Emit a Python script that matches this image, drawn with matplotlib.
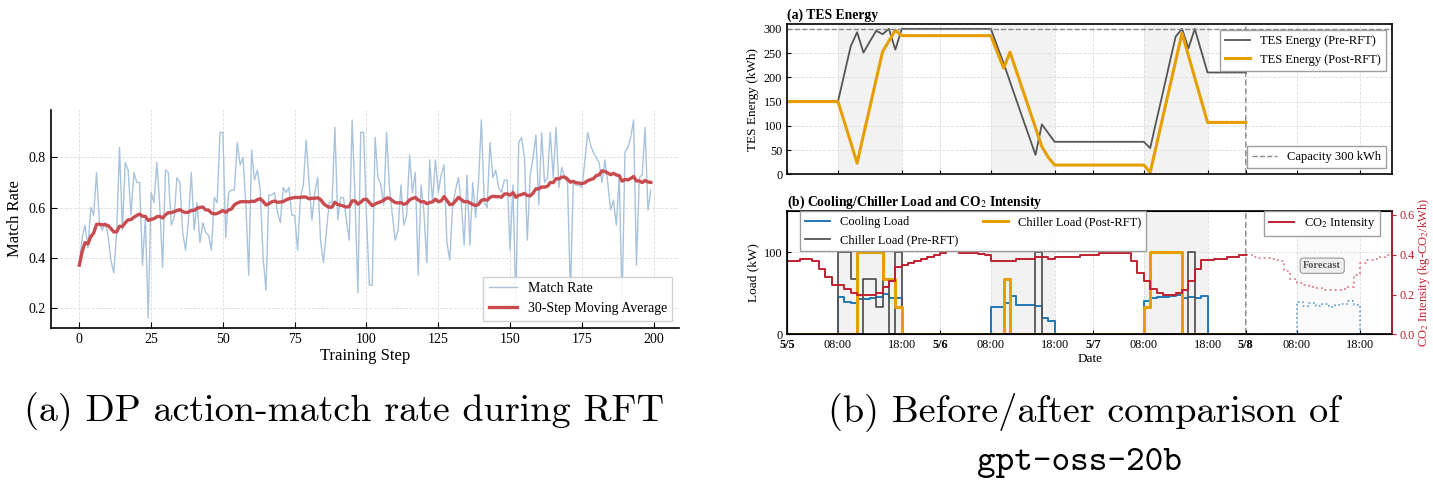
"""
RFT rezultati: (a) stopa poklapanja sa DP akcijama tokom treninga,
(b) poredjenje TES energije i opterecenja pre/posle RFT-a.
"""

import numpy as np
import pandas as pd
import matplotlib
matplotlib.use("Agg")
from matplotlib import pyplot as plt

plt.rcParams["font.family"] = "serif"
plt.rcParams["font.serif"] = ["Liberation Serif", "DejaVu Serif"]
plt.rcParams["mathtext.fontset"] = "stix"
plt.rcParams["xtick.direction"] = "in"
plt.rcParams["ytick.direction"] = "in"

# (a) match rate po koraku treninga
match_rate = [
    0.37, 0.48, 0.53, 0.44, 0.60, 0.57, 0.74, 0.54, 0.51, 0.54,
    0.49, 0.39, 0.34, 0.50, 0.84, 0.51, 0.78, 0.75, 0.57, 0.74,
    0.70, 0.70, 0.37, 0.56, 0.16, 0.66, 0.62, 0.78, 0.61, 0.36,
    0.75, 0.74, 0.53, 0.56, 0.72, 0.70, 0.50, 0.43, 0.55, 0.74,
    0.51, 0.62, 0.46, 0.54, 0.50, 0.49, 0.43, 0.64, 0.62, 0.90,
    0.90, 0.48, 0.66, 0.67, 0.67, 0.86, 0.77, 0.80, 0.61, 0.33,
    0.83, 0.71, 0.75, 0.67, 0.40, 0.27, 0.65, 0.65, 0.66, 0.58,
    0.54, 0.68, 0.66, 0.68, 0.57, 0.57, 0.43, 0.64, 0.69, 0.87,
    0.70, 0.55, 0.66, 0.72, 0.47, 0.38, 0.50, 0.62, 0.62, 0.92,
    0.55, 0.64, 0.64, 0.55, 0.47, 0.95, 0.64, 0.26, 0.90, 0.90,
    0.56, 0.29, 0.29, 0.88, 0.72, 0.69, 0.61, 0.90, 0.68, 0.57,
    0.47, 0.51, 0.69, 0.53, 0.57, 0.81, 0.66, 0.74, 0.33, 0.69,
    0.58, 0.38, 0.79, 0.62, 0.79, 0.66, 0.73, 0.77, 0.46, 0.39,
    0.61, 0.67, 0.72, 0.62, 0.45, 0.73, 0.45, 0.70, 0.56, 0.70,
    0.95, 0.62, 0.60, 0.86, 0.72, 0.75, 0.68, 0.66, 0.71, 0.71,
    0.43, 0.69, 0.22, 0.86, 0.88, 0.80, 0.47, 0.73, 0.80, 0.89,
    0.61, 0.90, 0.70, 0.72, 0.90, 0.72, 0.92, 0.68, 0.76, 0.72,
    0.70, 0.25, 0.70, 0.69, 0.69, 0.68, 0.78, 0.90, 0.85, 0.82,
    0.80, 0.78, 0.70, 0.79, 0.70, 0.59, 0.63, 0.53, 0.73, 0.22,
    0.82, 0.84, 0.88, 0.95, 0.37, 0.72, 0.73, 0.92, 0.59, 0.67,
]

# (b) satni podaci od 5/5 00:00 do 5/8 00:00
tes_pre = ([150] * 9
           + [207, 264, 293, 251, 274, 296, 289, 300, 257, 300]
           + [300] * 14
           + [264, 229, 191, 153, 115, 78, 40, 103, 85, 67]
           + [67] * 14
           + [54, 112, 169, 227, 284, 300, 260, 300, 255, 210]
           + [210] * 6)
tes_post = ([150] * 9
            + [108, 66, 23, 81, 138, 196, 253, 275, 297, 286]
            + [286] * 14
            + [252, 219, 252, 213, 174, 135, 96, 57, 35, 19]
            + [19] * 14
            + [4, 61, 119, 176, 234, 291, 245, 199, 153, 107]
            + [107] * 6)
cooling_load = ([0] * 8
                + [46, 39, 38, 43, 43, 44, 45, 49, 44, 44]
                + [0] * 14
                + [33, 33, 38, 47, 36, 36, 36, 35, 20, 16]
                + [0] * 14
                + [41, 44, 45, 45, 47, 48, 44, 46, 44, 47]
                + [0] * 7)
chiller_pre = ([0] * 8
               + [100, 100, 67, 0, 67, 67, 33, 67, 0, 100]
               + [0] * 21 + [100] + [0] * 23 + [100] + [0] * 9)
chiller_post = ([0] * 11
                + [100, 100, 100, 100, 67, 67, 33]
                + [0] * 16 + [67] + [0] * 21
                + [33, 100, 100, 100, 100, 100]
                + [0] * 11)
co2_hist = [
    0.37, 0.37, 0.38, 0.38, 0.37, 0.33, 0.29, 0.25, 0.25, 0.23,
    0.21, 0.20, 0.20, 0.20, 0.21, 0.24, 0.27, 0.34, 0.35, 0.36,
    0.37, 0.38, 0.39, 0.40, 0.41, 0.42, 0.42, 0.41, 0.41, 0.41,
    0.405, 0.40, 0.37, 0.37, 0.37, 0.37, 0.38, 0.38, 0.38, 0.39,
    0.39, 0.38, 0.39, 0.39, 0.39, 0.39, 0.40, 0.40, 0.40, 0.41,
    0.41, 0.41, 0.41, 0.41, 0.37, 0.31, 0.27, 0.23, 0.21, 0.20,
    0.20, 0.21, 0.225, 0.27, 0.33, 0.375, 0.375, 0.38, 0.38, 0.39,
    0.39, 0.40, 0.40,
]
# prognoza za 5/8
cooling_fc = ([0] * 8
              + [39, 35, 38, 35, 37, 33, 36, 37, 40, 36]
              + [0] * 6)
co2_fc = [
    0.40, 0.39, 0.385, 0.385, 0.38, 0.37, 0.32, 0.28, 0.26, 0.25,
    0.24, 0.235, 0.225, 0.225, 0.225, 0.23, 0.24, 0.30, 0.36, 0.375,
    0.38, 0.39, 0.40, 0.40,
]
tick_hours = [0, 8, 18, 24, 32, 42, 48, 56, 66, 72, 80, 90]
tick_labels = ["5/5", "08:00", "18:00", "5/6", "08:00", "18:00",
               "5/7", "08:00", "18:00", "5/8", "08:00", "18:00"]
day_labels = ["5/5", "5/6", "5/7", "5/8"]

steps = np.arange(len(match_rate))
moving_avg = pd.Series(match_rate).rolling(30, min_periods=1).mean()
hours_hist = np.arange(len(tes_pre))
hours_fc = np.arange(72, 72 + len(co2_fc))

BLUE = "#1f78b8"
ORANGE = "#E69F00"
GRAY = "#555555"
RED = "#c0202f"
GRID = dict(ls="--", lw=0.6, color="#dcdcdc")

fig = plt.figure(figsize=(14.33, 4.82), dpi=100)

# ---------------- (a) ----------------
ax_a = fig.add_axes([0.0354, 0.3201, 0.4387, 0.4517])
ax_a.plot(steps, match_rate, color="#a9c3dc", lw=1.0, label="Match Rate")
ax_a.plot(steps, moving_avg, color="#c84b4f", lw=2.4, label="30-Step Moving Average")
ax_a.set_xticks(range(0, 201, 25))
ax_a.set_yticks([0.2, 0.4, 0.6, 0.8])
ax_a.set_xlabel("Training Step", fontsize=12, labelpad=2)
ax_a.set_ylabel("Match Rate", fontsize=12)
ax_a.tick_params(labelsize=10, length=4, width=0.8)
ax_a.grid(True, **GRID)
for side in ["top", "right"]:
    ax_a.spines[side].set_visible(False)
for side in ["left", "bottom"]:
    ax_a.spines[side].set_linewidth(1.2)
ax_a.legend(loc="lower right", fontsize=10, fancybox=False,
            edgecolor="#cccccc", framealpha=0.9)

# ---------------- (b) ----------------
ax_t = fig.add_axes([0.5492, 0.6384, 0.4224, 0.3118])
ax_b = fig.add_axes([0.5492, 0.3064, 0.4224, 0.2558], sharex=ax_t)

for ax in (ax_t, ax_b):
    for start in (8, 32, 56):
        ax.axvspan(start, start + 10, color="#f2f2f2", zorder=0, lw=0)
    ax.axvline(72, color="#808080", ls="--", lw=1.2, zorder=1)
    ax.grid(True, **GRID)
    for sp in ax.spines.values():
        sp.set_linewidth(1.2)
ax_b.axvspan(80, 90, color="#fafafa", zorder=0, lw=0)

l_pre, = ax_t.plot(hours_hist, tes_pre, color=GRAY, lw=1.3, label="TES Energy (Pre-RFT)")
l_post, = ax_t.plot(hours_hist, tes_post, color=ORANGE, lw=2.2, label="TES Energy (Post-RFT)")
cap = ax_t.axhline(300, color="#888888", ls="--", lw=1.0, label="Capacity 300 kWh")
ax_t.set_ylim(0, 310)
ax_t.set_yticks(range(0, 301, 50))
ax_t.set_ylabel("TES Energy (kWh)", fontsize=9.5, labelpad=3)
ax_t.set_title("(a) TES Energy", loc="left", fontsize=9.8, fontweight="bold", pad=4)
ax_t.tick_params(labelsize=8.8, labelbottom=False, length=3)
leg1 = ax_t.legend(handles=[l_pre, l_post], loc="upper right", fontsize=9,
                   fancybox=False, edgecolor="#999999", framealpha=0.95)
ax_t.add_artist(leg1)
ax_t.legend(handles=[cap], loc="lower right", fontsize=9, fancybox=False,
            edgecolor="#999999", framealpha=0.95)

c_line, = ax_b.step(hours_hist, cooling_load, where="post", color=BLUE, lw=1.4, label="Cooling Load")
p_line, = ax_b.step(hours_hist, chiller_pre, where="post", color=GRAY, lw=1.3, label="Chiller Load (Pre-RFT)")
o_line, = ax_b.step(hours_hist, chiller_post, where="post", color=ORANGE, lw=2.2, label="Chiller Load (Post-RFT)")
ax_b.step(hours_fc, cooling_fc, where="post", color=BLUE, ls=":", lw=1.2, alpha=0.7)
ax_b.set_ylim(0, 150)
ax_b.set_yticks([0, 100])
ax_b.set_xlim(0, 95)
ax_b.set_xticks(tick_hours)
ax_b.set_xticklabels(tick_labels)
for lab in ax_b.get_xticklabels():
    if lab.get_text() in day_labels:
        lab.set_fontweight("bold")
ax_b.tick_params(labelsize=8.8, length=3)
ax_b.set_ylabel("Load (kW)", fontsize=9.5, labelpad=3)
ax_b.set_xlabel("Date", fontsize=9.5, labelpad=1)
ax_b.set_title("(b) Cooling/Chiller Load and CO$_2$ Intensity", loc="left",
               fontsize=9.8, fontweight="bold", pad=4)

ax_r = ax_b.twinx()
r_line, = ax_r.step(hours_hist, co2_hist, where="post", color=RED, lw=1.4, label="CO$_2$ Intensity")
ax_r.step(hours_fc, co2_fc, where="post", color=RED, ls=":", lw=1.4, alpha=0.5)
ax_r.set_ylim(0, 0.62)
ax_r.set_yticks([0.0, 0.2, 0.4, 0.6])
ax_r.set_yticklabels(["0.0", "0.2", "0.4", "0.6"])
ax_r.tick_params(axis="y", direction="out", colors=RED, labelsize=8.8, length=3, pad=2)
ax_r.spines["right"].set_color(RED)
ax_r.spines["right"].set_linewidth(1.2)
ax_r.set_ylabel("CO$_2$ Intensity (kg-CO$_2$/kWh)", fontsize=9, color=RED, labelpad=1)
ax_r.text(84, 0.345, "Forecast", ha="center", va="center", fontsize=7.5,
          fontweight="bold", color="#555555",
          bbox=dict(boxstyle="round,pad=0.3", fc="#eeeeee", ec="#999999", lw=0.8))

leg_load = ax_r.legend(handles=[c_line, p_line, o_line], ncol=2, loc="upper left",
                       bbox_to_anchor=(0.021, 1.0), borderaxespad=0, fontsize=9,
                       fancybox=False, edgecolor="#999999", framealpha=0.95)
ax_r.add_artist(leg_load)
ax_r.legend(handles=[r_line], loc="upper right", bbox_to_anchor=(0.98, 1.0),
            borderaxespad=0, fontsize=9, fancybox=False, edgecolor="#999999",
            framealpha=0.95)

# ---------------- captions ----------------
fig.text(344 / 1433, 1 - 421 / 482, "(a) DP action-match rate during RFT",
         family="cmr10", fontsize=27.5, ha="center", va="baseline")
fig.text(1084 / 1433, 1 - 421 / 482, "(b) Before/after comparison of",
         family="cmr10", fontsize=27.5, ha="center", va="baseline")
fig.text(1079 / 1433, 1 - 470 / 482, "gpt-oss-20b",
         family="cmtt10", fontsize=25.5, ha="center", va="baseline")

fig.savefig("out.png", dpi=100)
